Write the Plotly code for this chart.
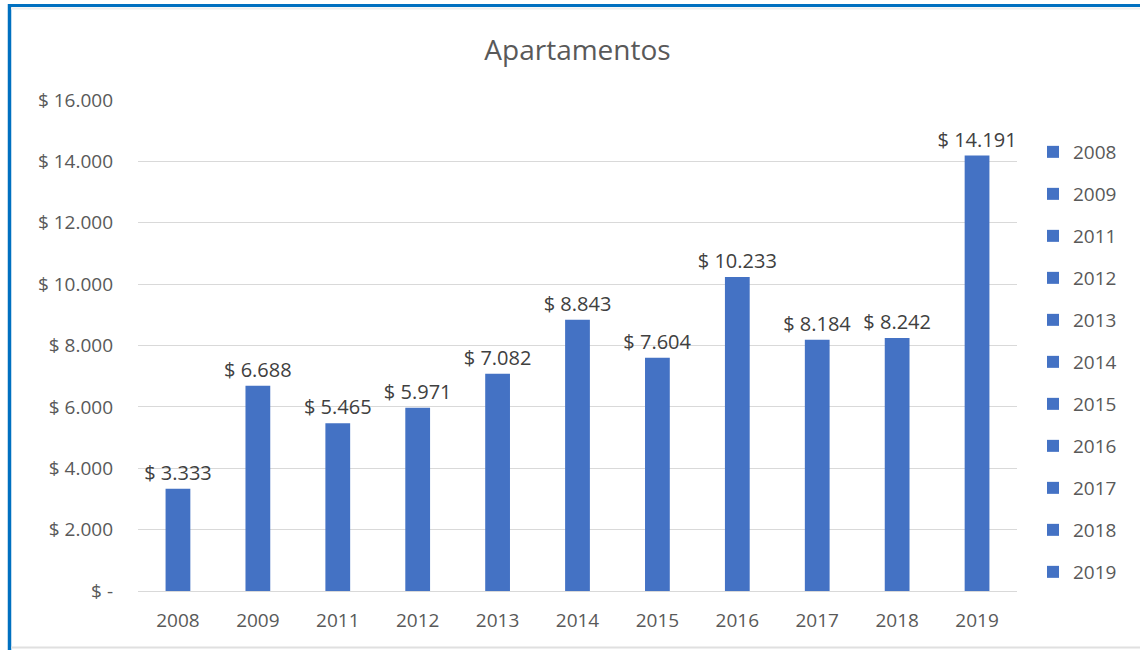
import plotly.graph_objects as go

years = ["2008", "2009", "2011", "2012", "2013", "2014", "2015", "2016", "2017", "2018", "2019"]
values = [3333, 6688, 5465, 5971, 7082, 8843, 7604, 10233, 8184, 8242, 14191]
tick_vals = [0, 2000, 4000, 6000, 8000, 10000, 12000, 14000, 16000]
tick_text = ["$ -", "$ 2.000", "$ 4.000", "$ 6.000", "$ 8.000", "$ 10.000", "$ 12.000", "$ 14.000", "$ 16.000"]
labels = ["$ " + f"{v:,}".replace(",", ".") for v in values]

BAR = "#4472C4"
fig = go.Figure()
for yr, v, lab in zip(years, values, labels):
    fig.add_trace(go.Bar(
        x=[yr], y=[v], name=yr, legendgroup=yr,
        marker=dict(color=BAR, line=dict(width=0)),
        width=0.31,
        text=[lab], textposition="outside", constraintext="none",
        textfont=dict(size=20, color="#404040", family="Open Sans"),
        cliponaxis=False,
    ))

L, R, T, B = 138, 1017, 100, 591
W, H = R - L, B - T
def px(x):
    return (x - L) / W
def py(y):
    return (B - y) / H

fig.update_layout(
    width=1140, height=650,
    margin=dict(l=L, r=1140 - R, t=T, b=650 - B, autoexpand=False),
    barmode="overlay",
    paper_bgcolor="white", plot_bgcolor="white",
    font=dict(family="Open Sans", color="#595959"),
    title=dict(text="Apartamentos", x=0.5, xref="paper", xanchor="center",
               y=1 - 50 / 650, yanchor="middle",
               font=dict(size=28, color="#595959", family="Open Sans")),
    showlegend=True,
    legend=dict(x=px(1033), xanchor="left", y=py(133), yanchor="top",
                font=dict(size=19, color="#595959", family="Open Sans"),
                tracegroupgap=14.3, itemwidth=30, bgcolor="rgba(0,0,0,0)"),
    xaxis=dict(type="category", categoryorder="array", categoryarray=years,
               showgrid=False, showline=False, ticks="", ticklabelstandoff=16,
               tickfont=dict(size=19, color="#595959")),
    yaxis=dict(range=[0, 16000], tickvals=tick_vals, ticktext=tick_text,
               showgrid=True, gridcolor="#d9d9d9", gridwidth=1,
               zeroline=True, zerolinecolor="#d9d9d9", zerolinewidth=1,
               showline=False, ticks="", ticklabelstandoff=24,
               tickfont=dict(size=19, color="#595959")),
    shapes=[
        dict(type="line", xref="paper", yref="paper", x0=px(9.5), x1=px(1140), y0=py(5.5), y1=py(5.5),
             line=dict(color="#0070C0", width=3)),
        dict(type="line", xref="paper", yref="paper", x0=px(9.5), x1=px(9.5), y0=py(4), y1=py(650),
             line=dict(color="#0070C0", width=3.5)),
        dict(type="line", xref="paper", yref="paper", x0=px(11), x1=px(1140), y0=py(647.5), y1=py(647.5),
             line=dict(color="#e0e0e0", width=2)),
        dict(type="line", xref="paper", yref="paper", x0=px(11), x1=px(1140), y0=py(8.5), y1=py(8.5),
             line=dict(color="#eeeeee", width=2)),
    ],
)

fig.write_html("out.html", config={"displayModeBar": False},
               post_script="document.body.style.margin='0px';document.body.style.overflow='hidden';")
